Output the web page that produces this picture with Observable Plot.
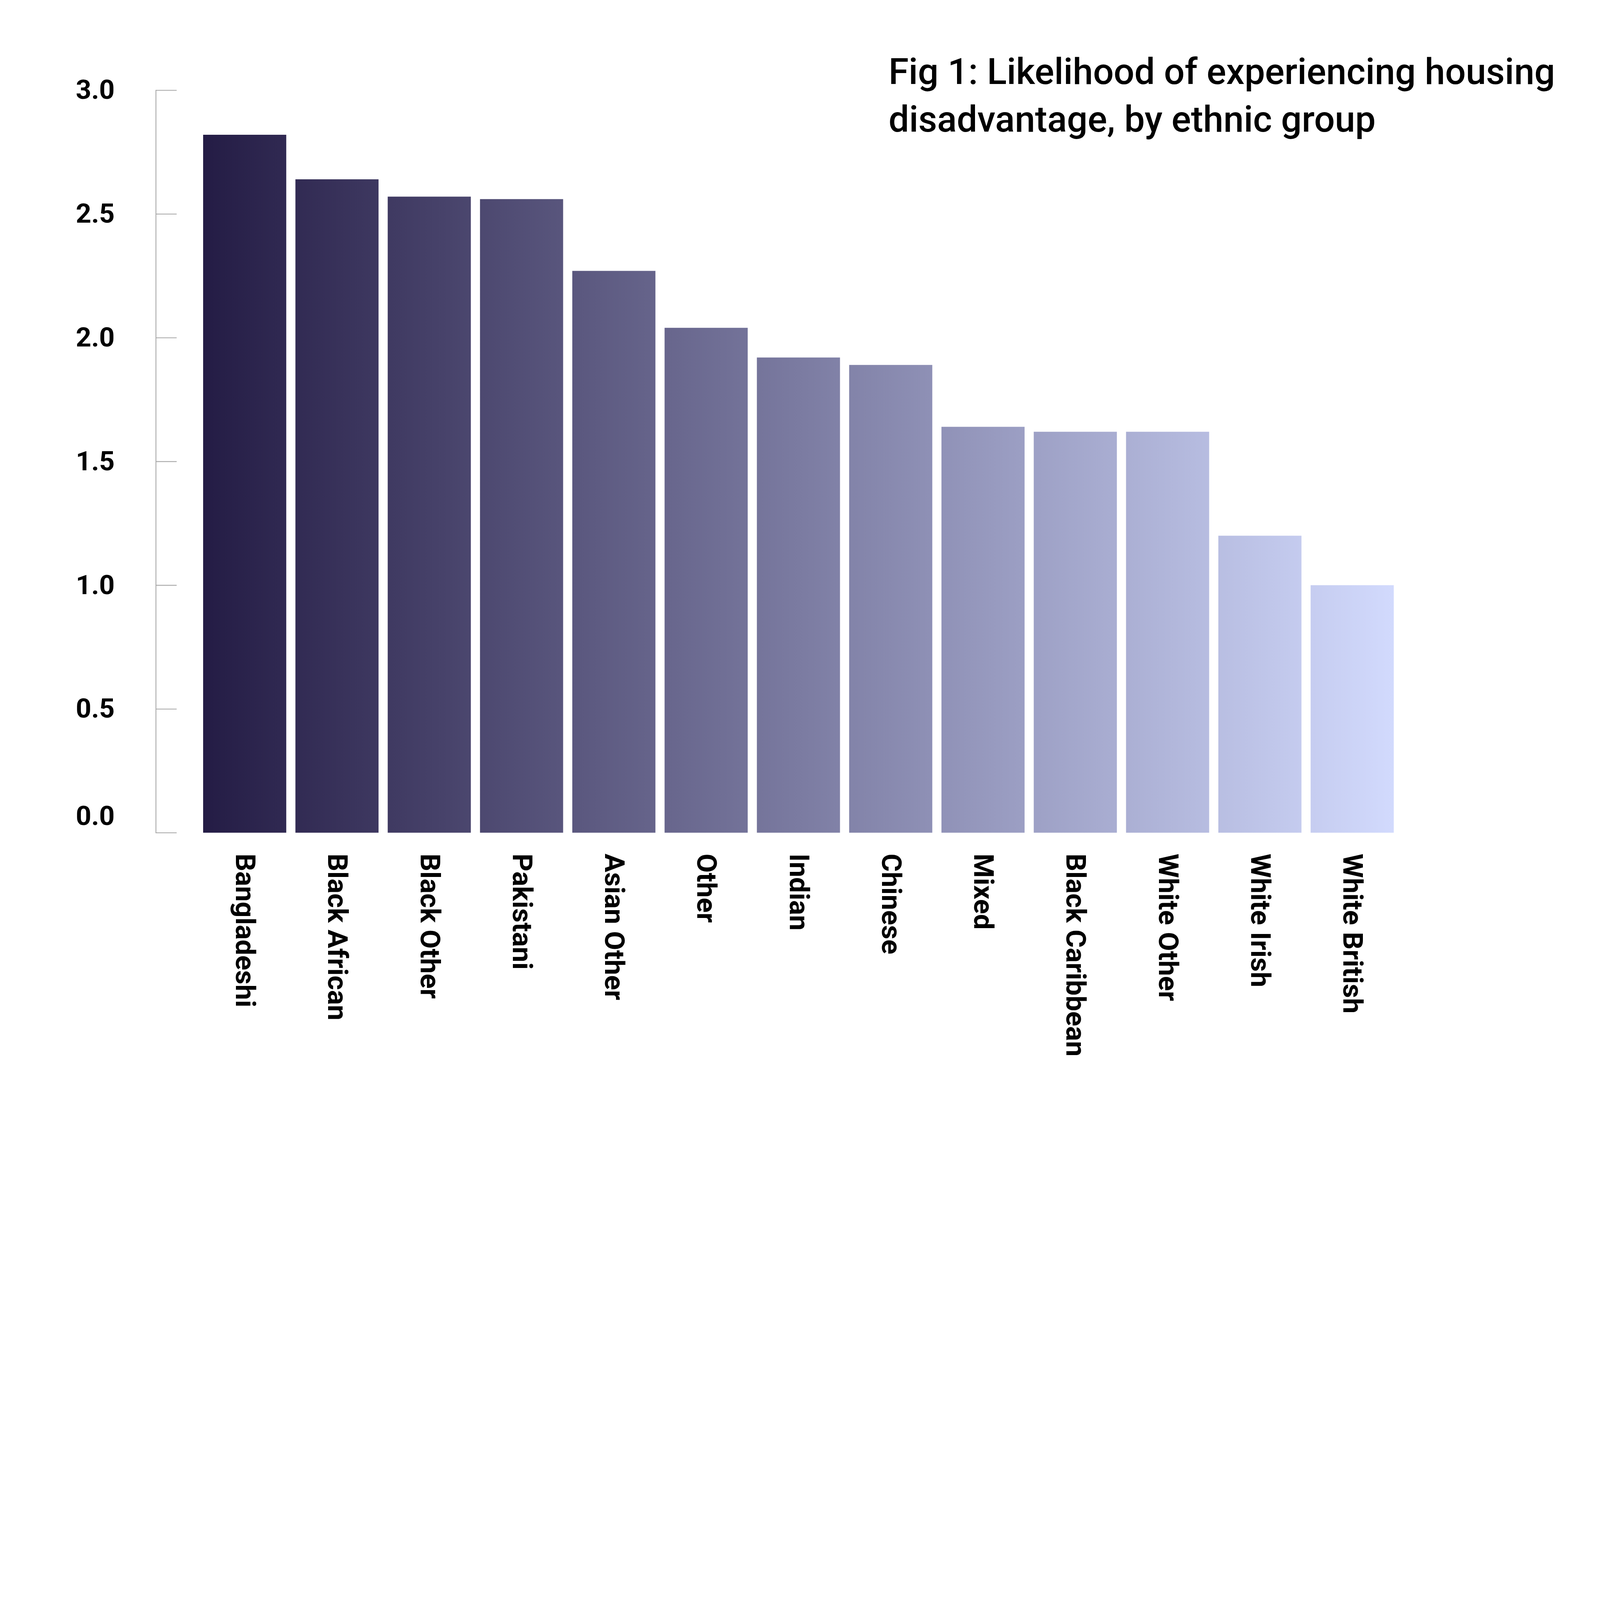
<!DOCTYPE html>
<html>
<head>
<meta charset="utf-8">
<script src="https://cdn.jsdelivr.net/npm/d3@7"></script>
<script src="https://cdn.jsdelivr.net/npm/@observablehq/plot@0.6"></script>
<style>
  html, body { margin: 0; padding: 0; background: #ffffff; overflow: hidden; }
  #wrap { position: relative; }
  #title {
    position: absolute;
    font-family: Roboto, "Noto Sans", sans-serif; font-weight: 500;
    color: #000; white-space: nowrap; margin: 0;
  }
  svg { display: block; }
</style>
</head>
<body>
<div id="wrap">
  <div id="chart"></div>
  <div id="title">Fig 1: Likelihood of experiencing housing<br>disadvantage, by ethnic group</div>
</div>
<script>
const groups = ["Bangladeshi", "Black African", "Black Other", "Pakistani", "Asian Other", "Other", "Indian", "Chinese", "Mixed", "Black Caribbean", "White Other", "White Irish", "White British"];
const likelihood = [2.82, 2.64, 2.57, 2.56, 2.27, 2.04, 1.92, 1.89, 1.64, 1.62, 1.62, 1.20, 1.00];
const yTicks = [0, 0.5, 1.0, 1.5, 2.0, 2.5, 3.0];
const gradientColors = ["#241c45", "#d2dafd"];

const data = groups.map((g, i) => ({group: g, value: likelihood[i]}));
const font = "Roboto, 'Noto Sans', sans-serif";
const W = 7680, H = 5166;

const plot = Plot.plot({
  width: W,
  height: H,
  marginLeft: 748,
  marginRight: 764,
  marginTop: 433,
  marginBottom: 1169,
  style: {fontFamily: font, background: "#ffffff", color: "#000"},
  x: {domain: groups, paddingInner: 0.1, paddingOuter: 0.5},
  y: {domain: [0, 3]},
  marks: [
    Plot.barY(data, {x: "group", y: "value", fill: "url(#barGrad)"}),
    Plot.frame({anchor: "left", stroke: "#a6a6a6", strokeWidth: 4}),
    Plot.axisY({ticks: yTicks, tickSize: -100, fill: "none", stroke: "#a6a6a6", strokeWidth: 4, label: null}),
    Plot.axisY({ticks: yTicks.filter(d => d > 0), tickSize: 0, tickPadding: 198, tickFormat: d3.format(".1f"), fontSize: 130, fontWeight: 700, label: null}),
    Plot.axisY({ticks: [0], tickSize: 0, tickPadding: 198, tickFormat: d3.format(".1f"), fontSize: 130, fontWeight: 700, dy: -80, label: null}),
    Plot.axisX({tickSize: 0, tickPadding: 100, tickRotate: 90, fontSize: 133, fontWeight: 700, label: null})
  ]
});

// horizontal gradient spanning all bars
const xs = plot.scale("x");
const x0 = xs.apply(groups[0]);
const x1 = xs.apply(groups[groups.length - 1]) + xs.bandwidth;
const svg = d3.select(plot);
const defs = svg.insert("defs", ":first-child");
const grad = defs.append("linearGradient")
  .attr("id", "barGrad")
  .attr("gradientUnits", "userSpaceOnUse")
  .attr("x1", x0).attr("x2", x1).attr("y1", 0).attr("y2", 0);
grad.append("stop").attr("offset", "0%").attr("stop-color", gradientColors[0]);
grad.append("stop").attr("offset", "100%").attr("stop-color", gradientColors[1]);

// fit the 7680x5166 design into the actual window
const s = Math.min(window.innerWidth / W, window.innerHeight / H);
plot.setAttribute("viewBox", `0 0 ${W} ${H}`);
plot.style.width = (W * s) + "px";
plot.style.height = (H * s) + "px";
plot.style.maxWidth = "none";
const wrap = document.getElementById("wrap");
wrap.style.width = (W * s) + "px";
wrap.style.height = (H * s) + "px";
const title = document.getElementById("title");
title.style.left = (4265 * s) + "px";
title.style.top = (229 * s) + "px";
title.style.fontSize = (175 * s) + "px";
title.style.lineHeight = (229 * s) + "px";

document.getElementById("chart").appendChild(plot);
</script>
</body>
</html>
